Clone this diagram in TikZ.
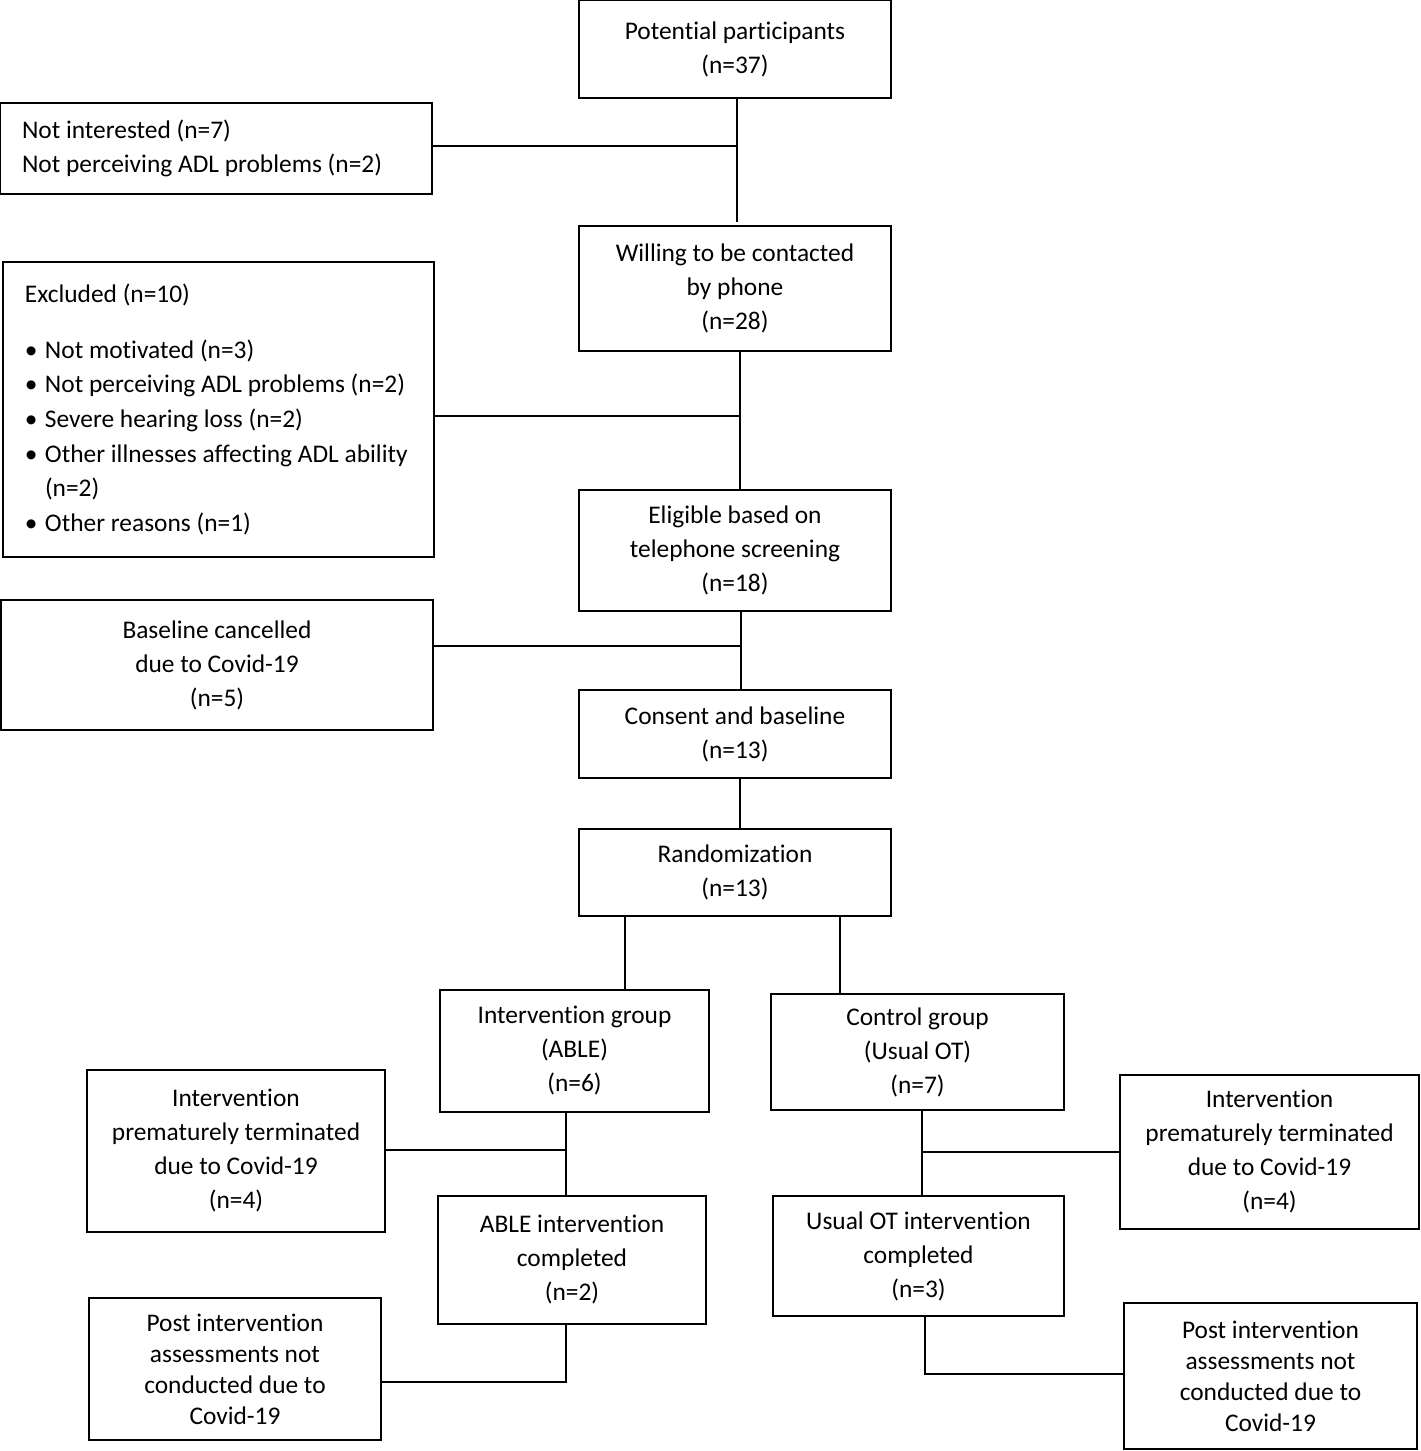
\documentclass[tikz,border=0pt]{standalone}
\usepackage{fontspec}
\setmainfont{Carlito}[Ligatures=NoCommon]
\begin{document}
\begin{tikzpicture}[x=0.5pt,y=-0.5pt,
  box/.style 2 args={draw, line width=1.2pt, minimum width=#1, minimum height=#2,
    align=center, inner sep=0pt, font=\fontsize{12.7}{17}\selectfont},
  lbox/.style 2 args={draw, line width=1.2pt, text width=#1, minimum height=#2,
    align=flush left, inner xsep=11pt, inner ysep=0pt, font=\fontsize{12.7}{17}\selectfont},
  conn/.style={line width=1.1pt}]
\useasboundingbox (0,0) rectangle (1420,1451);
% main column
\node[box={156pt}{49pt}] (P) at (735,49) {Potential participants\\(n=37)};
\node[lbox={194pt}{45.5pt}] (NI) at (216,148.5) {Not interested (n=7)\\Not perceiving ADL problems (n=2)};
\node[box={156pt}{62.5pt}] (W) at (735,288.5) {Willing to be contacted\\by phone\\(n=28)};
\node[lbox={193.5pt}{147.5pt}, font=\fontsize{12.7}{17.3}\selectfont] (X) at (218.5,409.5) {Excluded (n=10)\\[10.5pt]
\makebox[10pt][l]{\textbullet}Not motivated (n=3)\\
\makebox[10pt][l]{\textbullet}Not perceiving ADL problems (n=2)\\
\makebox[10pt][l]{\textbullet}Severe hearing loss (n=2)\\
\makebox[10pt][l]{\textbullet}Other illnesses affecting ADL ability\\
\hspace*{10pt}(n=2)\\
\makebox[10pt][l]{\textbullet}Other reasons (n=1)};
\node[box={156pt}{60.5pt}] (E) at (735,550.5) {Eligible based on\\telephone screening\\(n=18)};
\node[box={216pt}{65pt}] (B) at (217,665) {Baseline cancelled\\due to Covid-19\\(n=5)};
\node[box={156pt}{44pt}] (C) at (735,734) {Consent and baseline\\(n=13)};
\node[box={156pt}{43.5pt}] (R) at (735,872.5) {Randomization\\(n=13)};
% groups
\node[box={134.5pt}{61pt}] (IG) at (574.5,1051) {Intervention group\\(ABLE)\\(n=6)};
\node[box={146.5pt}{58pt}] (CG) at (917.5,1052) {Control group\\(Usual OT)\\(n=7)};
\node[box={149pt}{81pt}] (LIP) at (236,1151) {Intervention\\prematurely terminated\\due to Covid-19\\(n=4)};
\node[box={149.5pt}{77pt}] (RIP) at (1269.5,1152) {Intervention\\prematurely terminated\\due to Covid-19\\(n=4)};
\node[box={134pt}{64pt}] (AC) at (572,1260) {ABLE intervention\\completed\\(n=2)};
\node[box={145.5pt}{60pt}] (UC) at (918.5,1256) {Usual OT intervention\\completed\\(n=3)};
\node[box={146pt}{71pt}, font=\fontsize{12.7}{15.5}\selectfont] (LP) at (235,1369) {Post intervention\\assessments not\\conducted due to\\Covid-19};
\node[box={146.5pt}{73pt}, font=\fontsize{12.7}{15.5}\selectfont] (RP) at (1270.5,1376) {Post intervention\\assessments not\\conducted due to\\Covid-19};
% spine coordinates
\coordinate (s1) at (737,0);
\coordinate (s2) at (740,0);
\coordinate (s3) at (741,0);
\coordinate (ga) at (625,0);
\coordinate (gb) at (840,0);
\coordinate (lx) at (566,0);
\coordinate (rx) at (922,0);
\coordinate (rx2) at (925,0);
% connectors
\draw[conn] (s1 |- P.south) -- (s1 |- 0,222);
\draw[conn] (NI.east |- 0,146) -- (s1 |- 0,146);
\draw[conn] (s2 |- W.south) -- (s2 |- E.north);
\draw[conn] (X.east |- 0,416) -- (s2 |- 0,416);
\draw[conn] (s3 |- E.south) -- (s3 |- C.north);
\draw[conn] (B.east |- 0,646) -- (s3 |- 0,646);
\draw[conn] (s2 |- C.south) -- (s2 |- R.north);
\draw[conn] (ga |- R.south) -- (ga |- IG.north);
\draw[conn] (gb |- R.south) -- (gb |- CG.north);
\draw[conn] (lx |- IG.south) -- (lx |- AC.north);
\draw[conn] (LIP.east |- 0,1150) -- (lx |- 0,1150);
\draw[conn] (rx |- CG.south) -- (rx |- UC.north);
\draw[conn] (rx |- 0,1152) -- (RIP.west |- 0,1152);
\draw[conn] (lx |- AC.south) -- (lx |- 0,1382) -- (LP.east |- 0,1382);
\draw[conn] (rx2 |- UC.south) -- (rx2 |- 0,1374) -- (RP.west |- 0,1374);
\end{tikzpicture}
\end{document}
